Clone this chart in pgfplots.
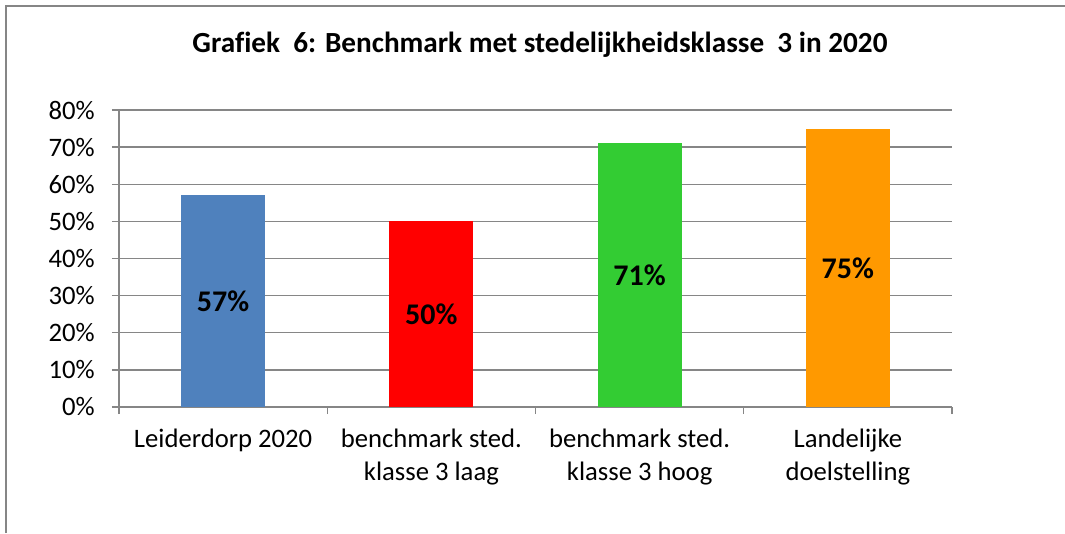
\documentclass[border=0pt]{standalone}
\usepackage{fontspec}
\setmainfont[Ligatures=CommonOff]{Carlito}
\usepackage{pgfplots}
\pgfplotsset{compat=1.18}
\definecolor{cblue}{HTML}{4F81BD}
\definecolor{cred}{HTML}{FF0000}
\definecolor{cgreen}{HTML}{33CC33}
\definecolor{corange}{HTML}{FF9900}
\definecolor{axgray}{HTML}{868686}
\begin{document}
\begin{tikzpicture}[x=0.75pt,y=0.75pt]
\useasboundingbox (0,0) rectangle (1065,533);
\draw[color=axgray, line width=1.1pt] (6,0) -- (6,527) -- (1065,527);
\node[font=\bfseries\fontsize{21.9}{26}\selectfont] at (540,488) {Grafiek\ \ 6: Benchmark met stedelijkheidsklasse\ \ 3 in 2020};
\begin{axis}[
  at={(89.25pt,94.5pt)}, anchor=south west,
  scale only axis, width=624.75pt, height=222.75pt,
  xmin=-0.5, xmax=3.5, ymin=0, ymax=80,
  axis x line*=bottom, axis y line*=left,
  axis line style={axgray, line width=1.1pt, -},
  ytick={0,10,...,80},
  yticklabel={\pgfmathprintnumber{\tick}\%},
  xtick={0,1,2,3},
  xticklabels={Leiderdorp 2020, benchmark sted.\\klasse 3 laag, benchmark sted.\\klasse 3 hoog, Landelijke\\doelstelling},
  minor xtick={-0.5,0.5,1.5,2.5,3.5},
  major x tick style={draw=none},
  tick align=outside,
  major tick length=5.25pt, minor tick length=5.25pt,
  tick style={axgray, line width=1.1pt},
  ymajorgrids, grid style={axgray, line width=1.1pt},
  xticklabel style={align=center, font=\fontsize{20}{24.4}\selectfont, yshift=-7.75pt},
  yticklabel style={font=\fontsize{20}{24}\selectfont, xshift=-9.5pt},
  /pgf/number format/assume math mode=true,
  tick label style={black},
]
\addplot[ybar, bar width=63pt, bar shift=0pt, fill=cblue, draw=none] coordinates {(0,57)};
\addplot[ybar, bar width=63pt, bar shift=0pt, fill=cred, draw=none] coordinates {(1,50)};
\addplot[ybar, bar width=63pt, bar shift=0pt, fill=cgreen, draw=none] coordinates {(2,71)};
\addplot[ybar, bar width=63pt, bar shift=0pt, fill=corange, draw=none] coordinates {(3,75)};
\addplot[draw=none, mark=none, nodes near coords, point meta=explicit symbolic,
  nodes near coords style={font=\bfseries\fontsize{22.5}{26}\selectfont, anchor=center, black}]
  coordinates {(0,28.5)[57\%] (1,25)[50\%] (2,35.5)[71\%] (3,37.5)[75\%]};
\end{axis}
\end{tikzpicture}
\end{document}
